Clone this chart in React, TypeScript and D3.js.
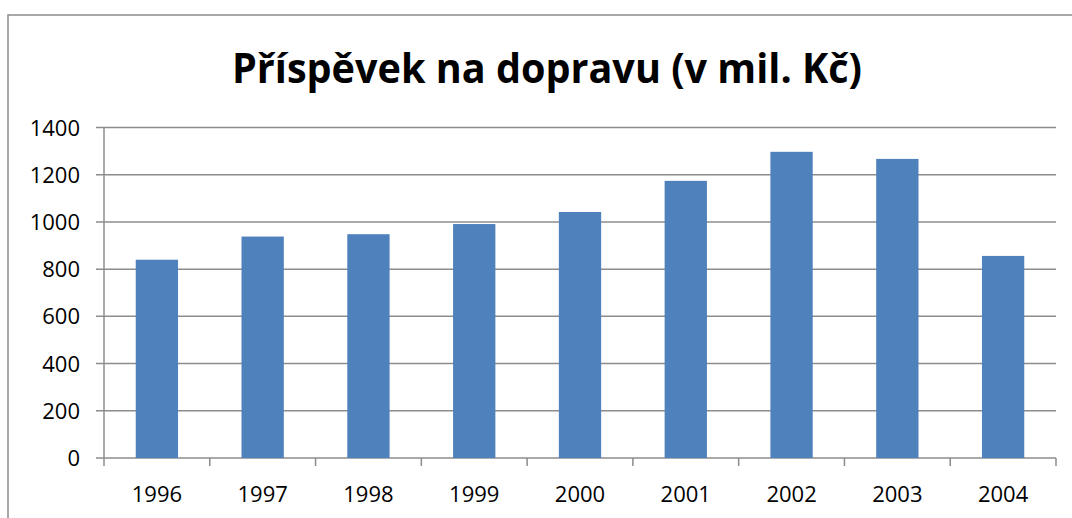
import React from 'react'
import * as d3 from 'd3'

// data
const years = ['1996', '1997', '1998', '1999', '2000', '2001', '2002', '2003', '2004']
const values = [840, 938, 948, 991, 1042, 1174, 1297, 1267, 856]
const yTicks = [0, 200, 400, 600, 800, 1000, 1200, 1400]

const title = 'Příspěvek na dopravu (v mil. Kč)'

const W = 1072
const H = 518
const plot = { left: 104, right: 1056, top: 127.5, bottom: 458 }
const gridColor = '#8c8c8c'
const barColor = '#4f81bd'
const font = '"Open Sans", "Liberation Sans", sans-serif'

export default function App() {
  const x = d3
    .scaleBand()
    .domain(years)
    .range([plot.left, plot.right])
    .paddingInner(0.6)
    .paddingOuter(0.3)

  const y = d3.scaleLinear().domain([0, 1400]).range([plot.bottom, plot.top])

  const step = (plot.right - plot.left) / years.length
  const xTickPos = d3.range(years.length + 1).map((i) => plot.left + i * step)

  return (
    <svg
      width={W}
      height={H}
      style={{ position: 'fixed', left: 0, top: 0, background: '#fff' }}
    >
      {/* outer chart frame */}
      <rect x={8} y={15} width={W + 10} height={H + 10} fill="none" stroke={gridColor} strokeWidth={1.5} />

      <text
        x={547}
        y={83}
        textAnchor="middle"
        fontFamily={font}
        fontWeight="bold"
        fontSize={41}
        textLength={630}
        lengthAdjust="spacingAndGlyphs"
        fill="#000"
      >
        {title}
      </text>

      {/* gridlines + y labels */}
      {yTicks.map((t) => (
        <g key={t}>
          <line x1={96} x2={plot.right} y1={y(t)} y2={y(t)} stroke={gridColor} strokeWidth={1.5} />
          <text x={80} y={y(t) + 8} textAnchor="end" fontFamily={font} fontSize={22} fill="#000">
            {t}
          </text>
        </g>
      ))}

      {/* y axis line */}
      <line x1={plot.left} x2={plot.left} y1={plot.top} y2={plot.bottom} stroke={gridColor} strokeWidth={1.5} />

      {/* bars */}
      {years.map((yr, i) => (
        <rect
          key={yr}
          x={x(yr)}
          y={y(values[i])}
          width={x.bandwidth()}
          height={y(0) - y(values[i])}
          fill={barColor}
        />
      ))}

      {/* x axis ticks */}
      {xTickPos.map((p, i) => (
        <line key={i} x1={p} x2={p} y1={plot.bottom} y2={plot.bottom + 8} stroke={gridColor} strokeWidth={1.5} />
      ))}

      {years.map((yr) => (
        <text
          key={yr}
          x={x(yr)! + x.bandwidth() / 2}
          y={502}
          textAnchor="middle"
          fontFamily={font}
          fontSize={22}
          fill="#000"
        >
          {yr}
        </text>
      ))}
    </svg>
  )
}
